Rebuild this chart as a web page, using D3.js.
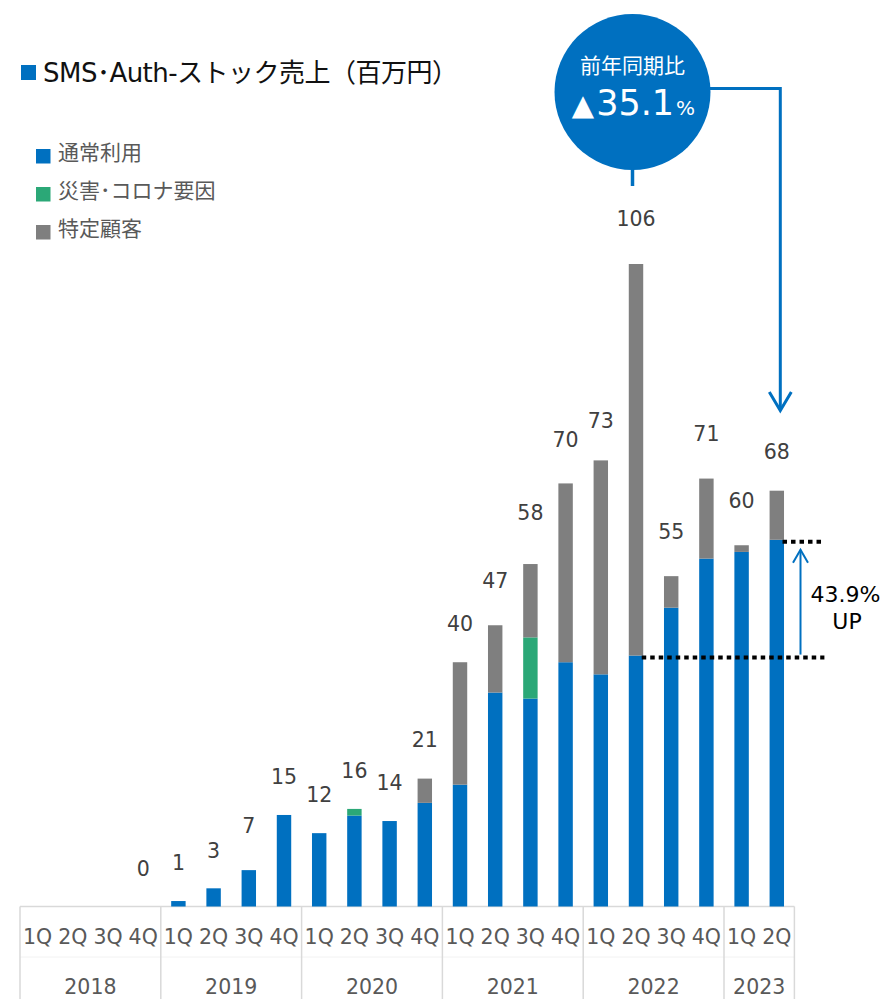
<!DOCTYPE html>
<html>
<head>
<meta charset="utf-8">
<script src="https://cdn.jsdelivr.net/npm/d3@7"></script>
<style>
  html, body { margin: 0; padding: 0; background: #fff; }
  svg { display: block; }
  text { font-family: 'DejaVu Sans', 'Noto Sans CJK JP', sans-serif; }
</style>
</head>
<body>
<svg id="chart" width="889" height="999"></svg>
<script>
// ---- data ----
const quarters = ["1Q","2Q","3Q","4Q","1Q","2Q","3Q","4Q","1Q","2Q","3Q","4Q",
                  "1Q","2Q","3Q","4Q","1Q","2Q","3Q","4Q","1Q","2Q"];
const years = ["2018","2019","2020","2021","2022","2023"];
const quartersPerYear = [4,4,4,4,4,2];
const normalUse   = [0,0,0,0, 0.9,3.0,6.0,15.1, 12.1,15.0,14.1,17.1, 20.1,35.3,34.3,40.3, 38.3,41.4,49.3,57.4, 58.5,60.5];
const disasterUse = [0,0,0,0, 0,0,0,0, 0,1.1,0,0, 0,0,10.1,0, 0,0,0,0, 0,0];
const specificUse = [0,0,0,0, 0,0,0,0, 0,0,0,4.0, 20.2,11.1,12.1,29.5, 35.3,64.6,5.2,13.2, 1.1,8.1];
const totalLabels = [null,null,null,0, 1,3,7,15, 12,16,14,21, 40,47,58,70, 73,106,55,71, 60,68];
const seriesNames = ["通常利用","災害･コロナ要因","特定顧客"];
const seriesColors = ["#0070C0","#2BA877","#7F7F7F"];
const titleText = "SMS･Auth-ストック売上（百万円）";
const yoyTitle = "前年同期比";
const yoyValue = "35.1";
const upValue = "43.9%";

// ---- build ----
const svg = d3.select("#chart");
const ids = quarters.map((q,i) => i);
const x = d3.scaleBand().domain(ids).range([20, 794.4]).paddingInner(0.59).paddingOuter(0.295);
const y = d3.scaleLinear().domain([0,106]).range([906.5, 264]);
const yLab = d3.scaleLinear().domain([0,106]).range([868.5, 218.3]);

const rows = ids.map(i => ({i, normal: normalUse[i], disaster: disasterUse[i], specific: specificUse[i]}));
const stack = d3.stack().keys(["normal","disaster","specific"])(rows);

// axis frame
const axisG = svg.append("g");
const step = x.step();
const x0 = x.range()[0], x1 = x.range()[1];
axisG.append("line").attr("x1", x0).attr("x2", x1).attr("y1", 957).attr("y2", 957)
  .attr("stroke", "#F2F2F2").attr("stroke-width", 1);
let cum = 0;
const bounds = [x0];
quartersPerYear.forEach(n => { cum += n; bounds.push(x0 + cum * step); });
bounds.forEach(bx => {
  axisG.append("line").attr("x1", bx).attr("x2", bx).attr("y1", 906.5).attr("y2", 999)
    .attr("stroke", "#D9D9D9").attr("stroke-width", 1.5);
});
axisG.append("line").attr("x1", x0).attr("x2", x1).attr("y1", 906.5).attr("y2", 906.5)
  .attr("stroke", "#D9D9D9").attr("stroke-width", 1.5);

axisG.selectAll("text.q").data(ids).join("text").attr("class","q")
  .attr("x", i => x(i) + x.bandwidth()/2).attr("y", 944)
  .attr("text-anchor","middle").attr("font-size", 20.5).attr("fill","#595959")
  .text(i => quarters[i]);
years.forEach((yr, k) => {
  axisG.append("text").attr("x", (bounds[k] + bounds[k+1]) / 2).attr("y", 993.5)
    .attr("text-anchor","middle").attr("font-size", 20.5).attr("fill","#595959").text(yr);
});

// bars
const barG = svg.append("g");
stack.forEach((s, si) => {
  barG.selectAll(null).data(s).join("rect")
    .attr("x", d => x(d.data.i)).attr("width", x.bandwidth())
    .attr("y", d => y(d[1])).attr("height", d => Math.max(0, y(d[0]) - y(d[1])))
    .attr("fill", seriesColors[si]);
});

// data labels
svg.append("g").selectAll("text").data(ids.filter(i => totalLabels[i] !== null)).join("text")
  .attr("x", i => x(i) + x.bandwidth()/2).attr("y", i => yLab(totalLabels[i]) + 7.6)
  .attr("text-anchor","middle").attr("font-size", 20.5).attr("fill","#404040")
  .text(i => totalLabels[i]);

// title legend
svg.append("rect").attr("x", 21).attr("y", 65).attr("width", 15).attr("height", 15).attr("fill", "#0070C0");
svg.append("text").attr("x", 43).attr("y", 82).attr("font-size", 26).attr("fill", "#111")
  .attr("textLength", 415).attr("lengthAdjust", "spacing").text(titleText);

// series legend
seriesNames.forEach((nm, k) => {
  const sy = 149 + k * 38;
  svg.append("rect").attr("x", 36).attr("y", sy).attr("width", 14.5).attr("height", 14.5).attr("fill", seriesColors[k]);
  svg.append("text").attr("x", 58).attr("y", sy + 7.25 - 3.5).attr("dominant-baseline", "central")
    .attr("font-size", 21).attr("fill", "#595959").text(nm);
});

// YoY bubble
const blue = "#0070C0";
const cx = 632.5, cy = 92, r = 78;
svg.append("line").attr("x1", cx).attr("x2", cx).attr("y1", cy + r - 2).attr("y2", 186)
  .attr("stroke", blue).attr("stroke-width", 3.5);
const last = ids[ids.length - 1];
const arrowX = x(last) + x.bandwidth()/2 + 3.5;
svg.append("path")
  .attr("d", `M${cx + r - 2},88.5 H${arrowX} V410`)
  .attr("fill", "none").attr("stroke", blue).attr("stroke-width", 3);
svg.append("path")
  .attr("d", `M${arrowX - 11},392 L${arrowX},410.5 L${arrowX + 11},392`)
  .attr("fill", "none").attr("stroke", blue).attr("stroke-width", 3);
svg.append("circle").attr("cx", cx).attr("cy", cy).attr("r", r).attr("fill", blue);
svg.append("text").attr("x", cx).attr("y", 66).attr("dominant-baseline", "central")
  .attr("text-anchor", "middle").attr("font-size", 21).attr("fill", "#fff").text(yoyTitle);
const vt = svg.append("text").attr("x", cx + 1).attr("y", 115).attr("text-anchor", "middle").attr("fill", "#fff");
vt.append("tspan").attr("font-size", 29).text("▲");
vt.append("tspan").attr("font-size", 35).attr("dx", 2).text(yoyValue);
vt.append("tspan").attr("font-size", 20).attr("dx", 2).text("%");

// 43.9% UP annotation
const iBase = 17, iNow = last;
const yBase = y(normalUse[iBase]) + 2;
const yNow = y(normalUse[iNow]) + 2;
const dotEnd = x1 + 30;
svg.append("line").attr("x1", x(iBase) + x.bandwidth() - 1.5).attr("x2", dotEnd)
  .attr("y1", yBase).attr("y2", yBase)
  .attr("stroke", "#000").attr("stroke-width", 4).attr("stroke-dasharray", "4.5,4");
svg.append("line").attr("x1", x(iNow) + x.bandwidth() - 1.5).attr("x2", dotEnd)
  .attr("y1", yNow).attr("y2", yNow)
  .attr("stroke", "#000").attr("stroke-width", 4).attr("stroke-dasharray", "4.5,4");
const ax = 800.5;
svg.append("line").attr("x1", ax).attr("x2", ax).attr("y1", yBase - 3).attr("y2", yNow + 8)
  .attr("stroke", blue).attr("stroke-width", 2);
svg.append("path").attr("d", `M${ax - 7.5},${yNow + 21} L${ax},${yNow + 8} L${ax + 7.5},${yNow + 21}`)
  .attr("fill", "none").attr("stroke", blue).attr("stroke-width", 2);
svg.append("text").attr("x", 845.5).attr("y", 601.5).attr("text-anchor", "middle")
  .attr("font-size", 22).attr("fill", "#000").text(upValue);
svg.append("text").attr("x", 847).attr("y", 628.5).attr("text-anchor", "middle")
  .attr("font-size", 22).attr("fill", "#000").text("UP");
</script>
</body>
</html>
